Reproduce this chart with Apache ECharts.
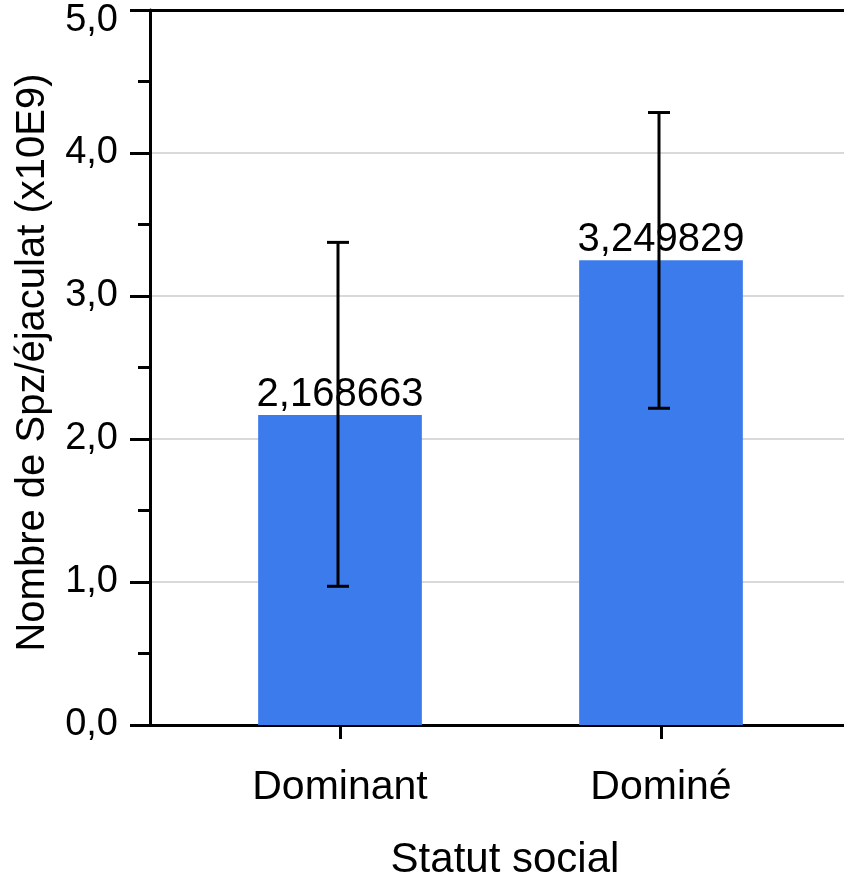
<!DOCTYPE html>
<html><head><meta charset="utf-8">
<script src="https://cdn.jsdelivr.net/npm/echarts@6/dist/echarts.min.js"></script>
<style>html,body{margin:0;padding:0;background:#fff}#c{width:844px;height:874px}</style>
</head><body><div id="c"></div>
<script>
var categories = ['Dominant', 'Dominé'];
var means = [2.168663, 3.249829];
var errLow = [0.97, 2.215];
var errHigh = [3.375, 4.283];
var yTicks = [0, 1, 2, 3, 4, 5];
var xTitle = 'Statut social';
var yTitle = 'Nombre de Spz/éjaculat (x10E9)';

var FONT = 'Liberation Sans, Arial, sans-serif';
var chart = echarts.init(document.getElementById('c'), null, {renderer: 'canvas'});
var gridTop = 10, gridBottom = 149;
var yMax = yTicks[yTicks.length - 1];
chart.setOption({
  animation: false,
  backgroundColor: '#fff',
  textStyle: {fontFamily: FONT},
  grid: [
    {left: 150, right: 0, top: gridTop, bottom: gridBottom, containLabel: false, outerBoundsMode: 'none'},
    {left: 179.5, right: 22.5, top: gridTop, bottom: gridBottom, containLabel: false, outerBoundsMode: 'none'}
  ],
  xAxis: [
    {gridIndex: 0, type: 'value', min: 0, max: 1, position: 'bottom',
     axisLine: {show: true, lineStyle: {color: '#000', width: 3}},
     axisTick: {show: false}, axisLabel: {show: false}, splitLine: {show: false},
     name: xTitle, nameLocation: 'middle', nameGap: 114,
     nameTextStyle: {fontSize: 42, color: '#000', fontFamily: FONT, padding: [0, 0, 0, 16]}},
    {gridIndex: 0, type: 'value', min: 0, max: 1, position: 'top',
     axisLine: {show: true, lineStyle: {color: '#000', width: 3}},
     axisTick: {show: false}, axisLabel: {show: false}, splitLine: {show: false}},
    {gridIndex: 1, type: 'category', data: categories, position: 'bottom',
     axisLine: {show: false},
     axisTick: {show: true, alignWithLabel: true, length: 14, lineStyle: {color: '#000', width: 3}},
     axisLabel: {fontSize: 41, color: '#000', margin: 42, fontFamily: FONT},
     splitLine: {show: false}}
  ],
  yAxis: [
    {gridIndex: 0, type: 'value', min: 0, max: yMax, interval: 1,
     axisLine: {show: true, lineStyle: {color: '#000', width: 3}},
     axisTick: {show: true, length: 20, lineStyle: {color: '#000', width: 3}},
     minorTick: {show: true, splitNumber: 2, length: 12, lineStyle: {color: '#000', width: 3}},
     axisLabel: {fontSize: 38, color: '#000', margin: 32, fontFamily: FONT,
       formatter: function (v) {
         if (yTicks.indexOf(v) < 0) return '';
         var s = v.toFixed(1).replace('.', ',');
         return v === yMax ? '{t|' + s + '}' : s;
       },
       rich: {t: {fontSize: 38, color: '#000', fontFamily: FONT, padding: [22, 0, 0, 0]}}},
     splitLine: {show: true, lineStyle: {color: '#d9d9d9', width: 2}},
     name: yTitle, nameLocation: 'middle', nameGap: 97,
     nameTextStyle: {fontSize: 40, color: '#000', fontFamily: FONT, padding: [0, 0, 0, 10]}},
    {gridIndex: 1, type: 'value', min: 0, max: yMax, show: false}
  ],
  series: [
    {type: 'bar', xAxisIndex: 2, yAxisIndex: 1, data: means, barWidth: '51%',
     itemStyle: {color: '#3c7bec'},
     label: {show: true, position: 'top', distance: 0, fontSize: 40, color: '#000', fontFamily: FONT,
       formatter: function (p) { return p.value.toFixed(6).replace('.', ','); }},
     z: 2},
    {type: 'custom', xAxisIndex: 2, yAxisIndex: 1, z: 10,
     data: categories.map(function (c, i) { return [i, errLow[i], errHigh[i]]; }),
     renderItem: function (params, api) {
       var lo = api.coord([api.value(0), api.value(1)]);
       var hi = api.coord([api.value(0), api.value(2)]);
       var x = lo[0] - 2, cap = 11;
       var st = {stroke: '#000', lineWidth: 3};
       return {type: 'group', children: [
         {type: 'line', shape: {x1: x, y1: lo[1], x2: x, y2: hi[1]}, style: st},
         {type: 'line', shape: {x1: x - cap, y1: lo[1], x2: x + cap, y2: lo[1]}, style: st},
         {type: 'line', shape: {x1: x - cap, y1: hi[1], x2: x + cap, y2: hi[1]}, style: st}
       ]};
     }}
  ]
});
</script></body></html>
